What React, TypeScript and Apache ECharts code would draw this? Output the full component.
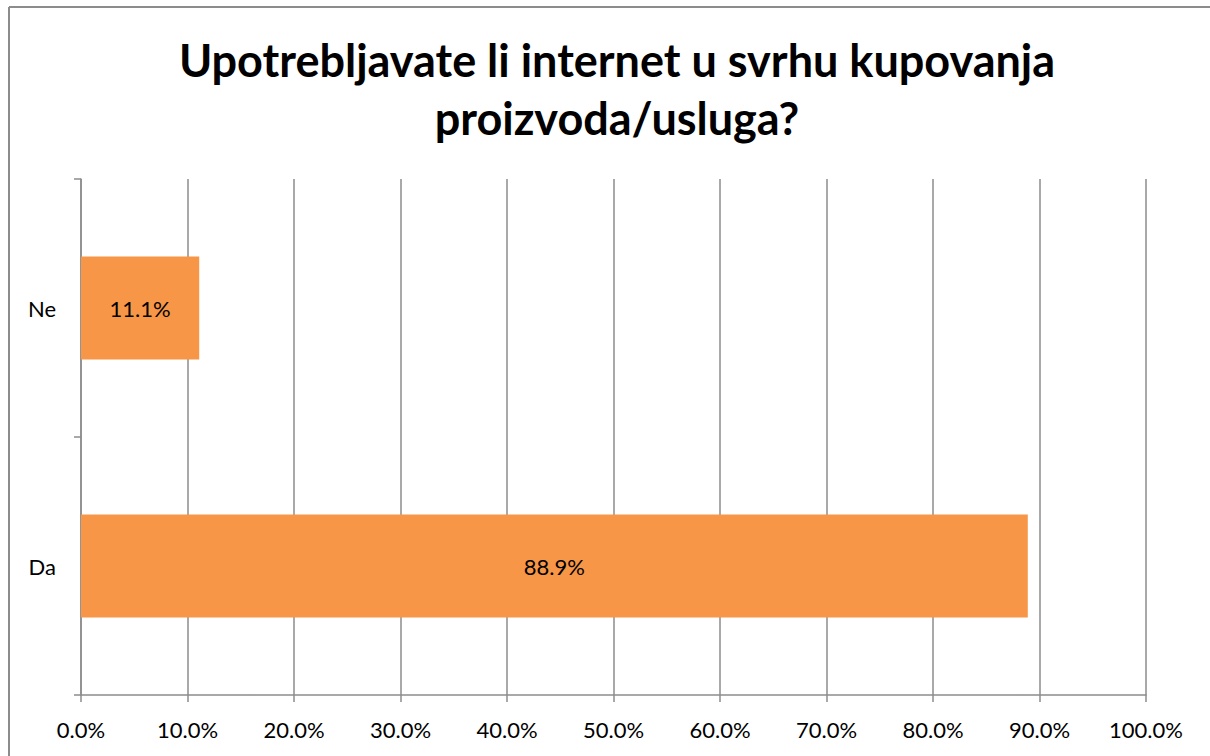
import React, { useEffect, useRef } from "react";
import * as echarts from "echarts";

const titleLines = ["Upotrebljavate li internet u svrhu kupovanja", "proizvoda/usluga?"];
const categories = ["Da", "Ne"];
const values = [88.9, 11.1];
const axisMin = 0;
const axisMax = 100;
const axisStep = 10;

export default function App() {
  const ref = useRef<HTMLDivElement>(null);
  useEffect(() => {
    if (!ref.current) return;
    const chart = echarts.init(ref.current, null, { renderer: "svg" });
    const font = "Lato, 'Open Sans', sans-serif";
    const frameStyle = { stroke: "#8c8c8c", lineWidth: 2 };
    chart.setOption({
      animation: false,
      backgroundColor: "#ffffff",
      title: {
        text: titleLines.join("\n"),
        left: 612,
        textAlign: "center",
        top: 26,
        textStyle: {
          fontFamily: font,
          fontWeight: "bold",
          fontSize: 45,
          lineHeight: 58,
          color: "#000000",
        },
      },
      graphic: [
        {
          type: "line",
          shape: { x1: 9, y1: 7, x2: 1210, y2: 7 },
          style: frameStyle,
          silent: true,
        },
        {
          type: "line",
          shape: { x1: 9, y1: 7, x2: 9, y2: 756 },
          style: frameStyle,
          silent: true,
        },
      ],
      grid: { left: 81, right: 64, top: 179, bottom: 61, containLabel: false },
      xAxis: {
        type: "value",
        min: axisMin,
        max: axisMax,
        interval: axisStep,
        axisLine: { show: true, lineStyle: { color: "#8c8c8c", width: 1.5 } },
        axisTick: { show: true, length: 7, lineStyle: { color: "#8c8c8c", width: 1.5 } },
        splitLine: { show: true, lineStyle: { color: "#8c8c8c", width: 1.5 } },
        axisLabel: {
          margin: 23,
          fontFamily: font,
          fontSize: 22,
          color: "#000000",
          formatter: (v: number) => v.toFixed(1) + "%",
        },
      },
      yAxis: {
        type: "category",
        data: categories,
        axisLine: { show: true, lineStyle: { color: "#8c8c8c", width: 1.5 } },
        axisTick: { show: true, length: 7, alignWithLabel: false, lineStyle: { color: "#8c8c8c", width: 1.5 } },
        axisLabel: { margin: 25, fontFamily: font, fontSize: 22, color: "#000000" },
        splitLine: { show: false },
      },
      series: [
        {
          type: "bar",
          data: values,
          barWidth: "40%",
          itemStyle: { color: "#F79646" },
          label: {
            show: true,
            position: "inside",
            fontFamily: font,
            fontSize: 22,
            color: "#000000",
            formatter: (p: any) => Number(p.value).toFixed(1) + "%",
          },
        },
      ],
    });
    return () => chart.dispose();
  }, []);
  return (
    <div
      ref={ref}
      style={{ position: "fixed", left: 0, top: 0, width: 1210, height: 756 }}
    />
  );
}
